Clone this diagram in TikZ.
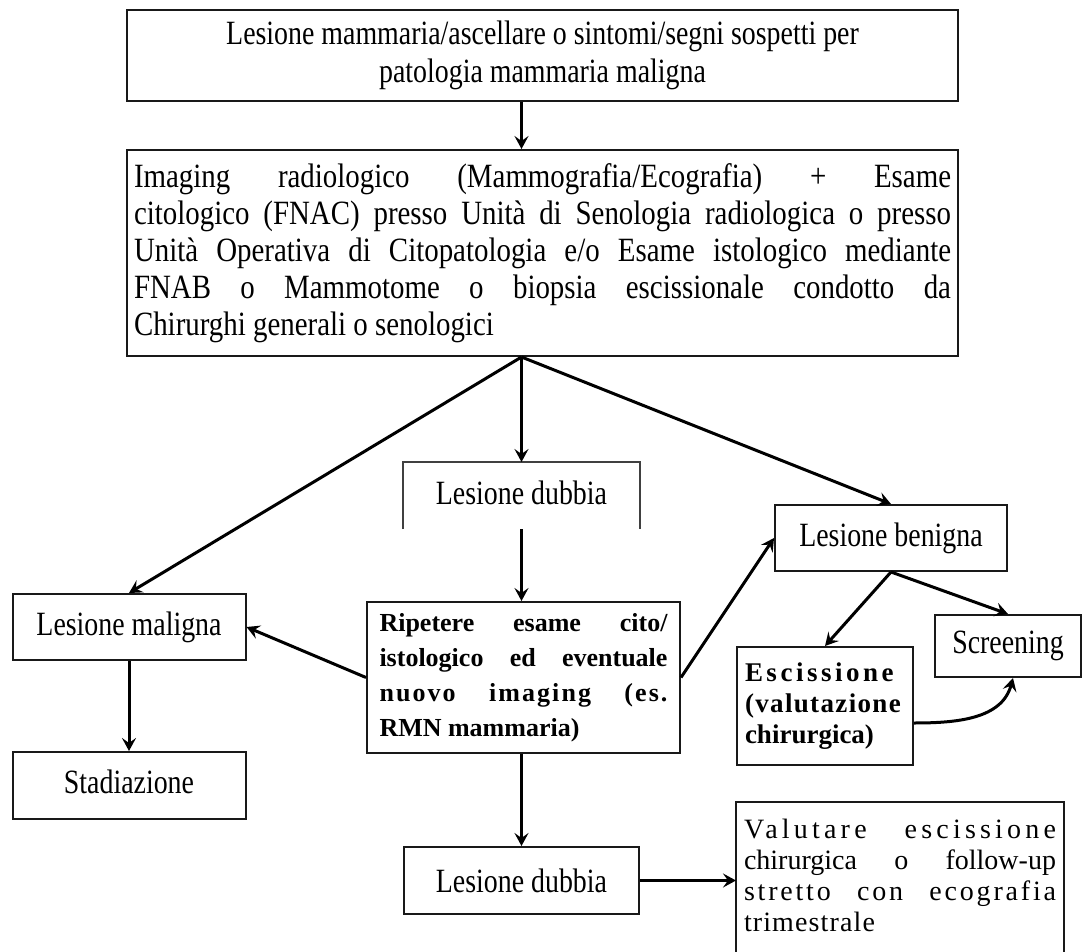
\documentclass[tikz,border=0pt]{standalone}
\usepackage{fontspec}
\setmainfont{Liberation Serif}
\newfontfamily\narrowserif{Liberation Serif}[FakeStretch=0.82]
\newfontfamily\semiserif{Liberation Serif}[FakeStretch=0.85]
\usetikzlibrary{arrows.meta,calc}
% a line whose interword spaces stretch to a given width
\newcommand{\spreadline}[2]{\leavevmode\hbox to #1{\spaceskip=\fontdimen2\font plus 1fil\relax #2}}
% letter-spaced text
\newcommand{\tracked}[2]{{\addfontfeature{LetterSpace=#1}#2}}

\begin{document}
\begin{tikzpicture}[x=1pt,y=-1pt,
  box/.style={draw=black!90, line width=2pt, inner sep=0pt, align=center,
    font=\narrowserif\fontsize{34}{38}\selectfont},
  flow/.style={line width=3pt, -{Stealth[length=13pt,width=14pt,inset=5pt]}},
]
\useasboundingbox (0,0) rectangle (1082,952);

% top box
\node[box, minimum width=831pt, minimum height=91pt] (b1) at (542.5,55.5)
  {Lesione mammaria/ascellare o sintomi/segni sospetti per\\patologia mammaria maligna};

% imaging box
\node[box, minimum width=831pt, minimum height=206pt, text width=817pt, align=flush left,
  font=\semiserif\fontsize{34}{37}\selectfont] (b2) at (542.5,253)
  {\spreadline{817pt}{Imaging radiologico (Mammografia/Ecografia) + Esame}\\
   \spreadline{817pt}{citologico (FNAC) presso Unità di Senologia radiologica o presso}\\
   \spreadline{817pt}{Unità Operativa di Citopatologia e/o Esame istologico mediante}\\
   \spreadline{817pt}{FNAB o Mammotome o biopsia escissionale condotto da}\\
   Chirurghi generali o senologici};

% open box: first doubtful lesion
\node[box, draw=none, minimum width=235pt, minimum height=65pt] (d1) at (521.5,495.5)
  {\raisebox{5pt}{Lesione dubbia}};
\draw[line width=2pt, draw=black!75] (d1.south west) |- (d1.north east) -- (d1.south east);

% malignant branch
\node[box, minimum width=233pt, minimum height=66pt] (mal) at (129,627) {Lesione maligna};
\node[box, minimum width=233pt, minimum height=67pt] (sta) at (129,785.5)
  {\raisebox{7pt}{Stadiazione}};

% repeat exam box
\node[box, minimum width=313pt, minimum height=151pt, text width=288pt, align=flush left,
  font=\fontsize{26}{35}\selectfont\bfseries] (rip) at (523.5,677.5)
  {\spreadline{288pt}{Ripetere esame cito/}\\
   \spreadline{288pt}{istologico ed eventuale}\\
   \spreadline{288pt}{\tracked{8}{nuovo imaging (es.}}\\
   RMN mammaria)};

% benign branch
\node[box, minimum width=232pt, minimum height=66pt] (ben) at (891,538) {Lesione benigna};
\node[box, minimum width=176pt, minimum height=118pt, text width=160pt, align=flush left,
  font=\fontsize{27}{31}\selectfont\bfseries] (esc) at (825,706)
  {\tracked{13}{Escissione}\\
   \tracked{5}{(valutazione}\\
   chirurgica)};
\node[box, minimum width=146pt, minimum height=62pt] (scr) at (1008,646) {Screening};

% second doubtful lesion and follow-up
\node[box, draw=none, minimum width=326pt, minimum height=144pt, text width=312pt,
  align=flush left, font=\fontsize{28}{31}\selectfont] (val) at (900,875)
  {\spreadline{312pt}{\tracked{15}{Valutare escissione}}\\
   \spreadline{312pt}{chirurgica o follow-up}\\
   \spreadline{312pt}{\tracked{10}{stretto con ecografia}}\\
   \tracked{4}{trimestrale}};
\draw[line width=2pt, draw=black!90] ([yshift=-20pt]val.south west) rectangle (val.north east);
\node[box, minimum width=235pt, minimum height=67pt] (d2) at (521.5,880.5) {Lesione dubbia};

% connectors
\draw[flow] (b1.south -| d1) -- (b2.north -| d1);
\draw[flow] (b2.south -| d1) -- (mal.north);
\draw[flow] (b2.south -| d1) -- (d1.north);
\draw[flow] (b2.south -| d1) -- (ben.north);
\draw[flow] (d1.south) -- (rip.north -| d1);
\draw[flow] (rip.west) -- (mal.east);
\draw[flow] (rip.east) -- (ben.west);
\draw[flow] (mal.south) -- (sta.north);
\draw[flow] (ben.south) -- (esc.north);
\draw[flow] (ben.south) -- (scr.north);
\draw[flow] ([yshift=-17pt]esc.east) to[out=0,in=-105] ([xshift=5pt]scr.south);
\draw[flow] (rip.south -| d1) -- (d2.north);
\draw[flow] (d2.east) -- (d2.east -| val.west);
\end{tikzpicture}
\end{document}
